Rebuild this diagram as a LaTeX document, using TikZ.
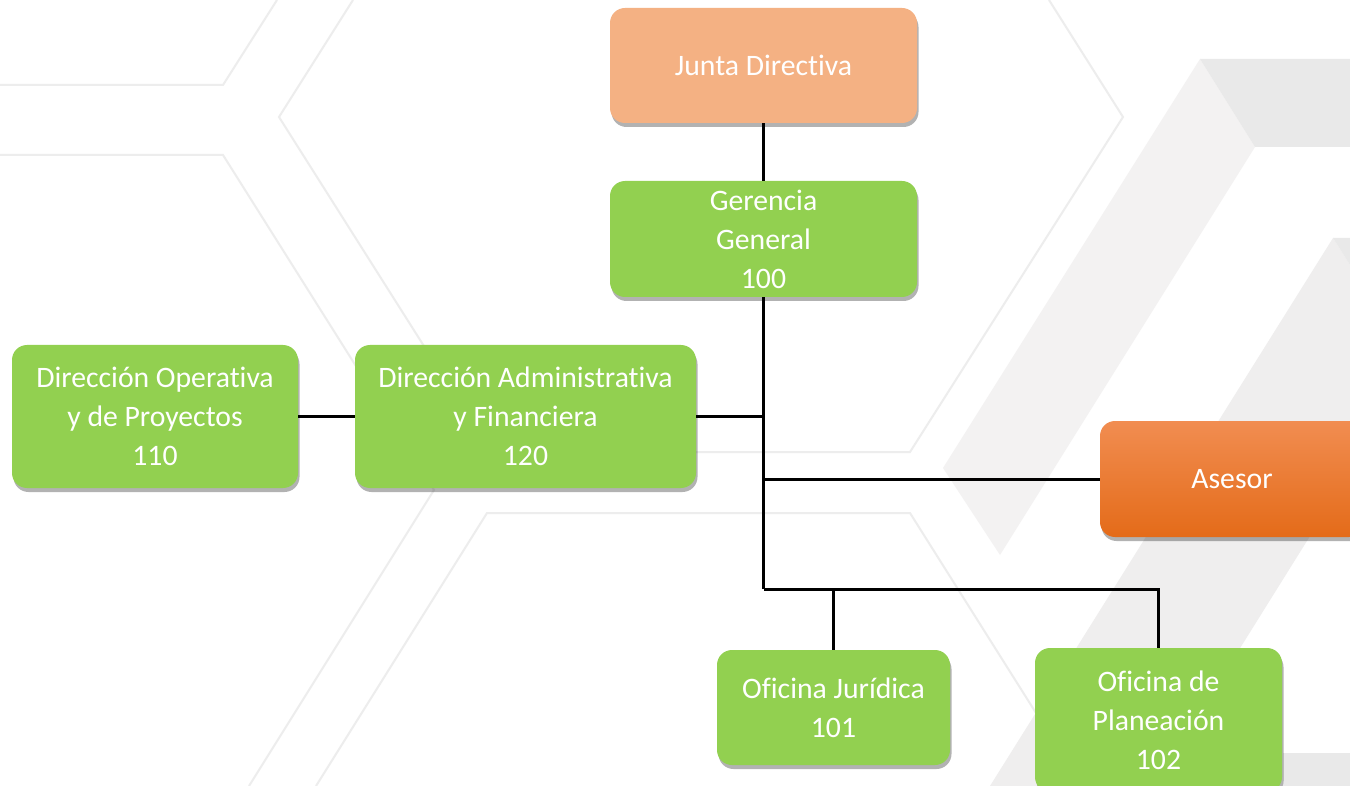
\documentclass[tikz,border=0pt]{standalone}
\usepackage{fontspec}
\setmainfont{Carlito}[Ligatures={NoCommon}]
\usetikzlibrary{shadows}

\definecolor{boxgreen}{HTML}{92D050}
\definecolor{boxsalmon}{HTML}{F4B183}
\definecolor{orangetop}{HTML}{F18D51}
\definecolor{orangebot}{HTML}{E46B19}
\definecolor{hexline}{HTML}{EDEDED}
\definecolor{bandlight}{HTML}{F3F2F2}
\definecolor{banddark}{HTML}{E9E9E9}

\tikzset{
  unit/.style={rounded corners=15pt, text=white, align=center, inner sep=0pt,
    font=\fontsize{29.7}{39}\selectfont,
    drop shadow={shadow xshift=1.5pt, shadow yshift=-4pt, fill=black, opacity=0.3}},
  greenbox/.style={unit, fill=boxgreen},
  salmonbox/.style={unit, fill=boxsalmon},
  orangebox/.style={unit, top color=orangetop, bottom color=orangebot},
  link/.style={draw=black, line width=3pt},
  hexedge/.style={draw=hexline, line width=2pt},
}

\begin{document}
\begin{tikzpicture}[x=1pt, y=-1pt]
  \useasboundingbox (0,0) rectangle (1350,786);
  \clip (0,0) rectangle (1350,786);
  \fill[white] (0,0) rectangle (1350,786);

  % faint hexagon outlines in the background
  \draw[hexedge] (0,85) -- (223,85) -- (277,0);
  \draw[hexedge] (0,155) -- (223,155) -- (434,490) -- (249,786);
  \draw[hexedge] (353,0) -- (279,117) -- (491,452) -- (910,452) -- (1123,117) -- (1049,0);
  \draw[hexedge] (316,786) -- (487,513) -- (910,513) -- (1082,786);

  % grey chevrons on the right
  \fill[bandlight] (1200,59) -- (1255,147) -- (1000,555) -- (943,468) -- cycle;
  \fill[banddark] (1200,59) -- (1350,59) -- (1350,147) -- (1255,147) -- cycle;
  \fill[bandlight!60!banddark] (1333,238) -- (1350,265) -- (1350,472) -- (1154,786) -- (990,786) -- cycle;
  \fill[banddark] (1333,238) -- (1350,238) -- (1350,265) -- cycle;
  \fill[banddark] (1283,753) rectangle (1350,786);

  % organisational units
  \node[salmonbox, minimum width=307pt, minimum height=115pt] (jd) at (763.5,65.5) {Junta Directiva};
  \node[greenbox, minimum width=307pt, minimum height=116pt] (gg) at (763.5,239) {Gerencia\\General\\100};
  \node[greenbox, minimum width=286pt, minimum height=143pt] (dop) at (155,416.5) {Dirección Operativa\\y de Proyectos\\110};
  \node[greenbox, minimum width=341pt, minimum height=143pt] (dadm) at (525.5,416.5) {Dirección Administrativa\\y Financiera\\120};
  \node[orangebox, minimum width=264pt, minimum height=116pt] (ase) at (1232,479) {Asesor};
  \node[greenbox, minimum width=233pt, minimum height=115pt] (oj) at (833.5,707.5) {Oficina Jurídica\\101};
  \node[greenbox, minimum width=247pt, minimum height=144pt] (op) at (1158.5,720) {Oficina de\\Planeación\\102};

  % reporting lines
  \coordinate (bus) at (763.5,589);
  \draw[link] (jd.south) -- (gg.north);
  \draw[link] (gg.south) -- (bus);
  \draw[link] (dadm.east) -- (dadm.east -| gg.south);
  \draw[link] (dop.east) -- (dadm.west);
  \draw[link] (ase.west -| gg.south) -- (ase.west);
  \draw[link] (bus) -- (op.north |- bus) -- (op.north);
  \draw[link] (oj.north |- bus) -- (oj.north);
\end{tikzpicture}
\end{document}
